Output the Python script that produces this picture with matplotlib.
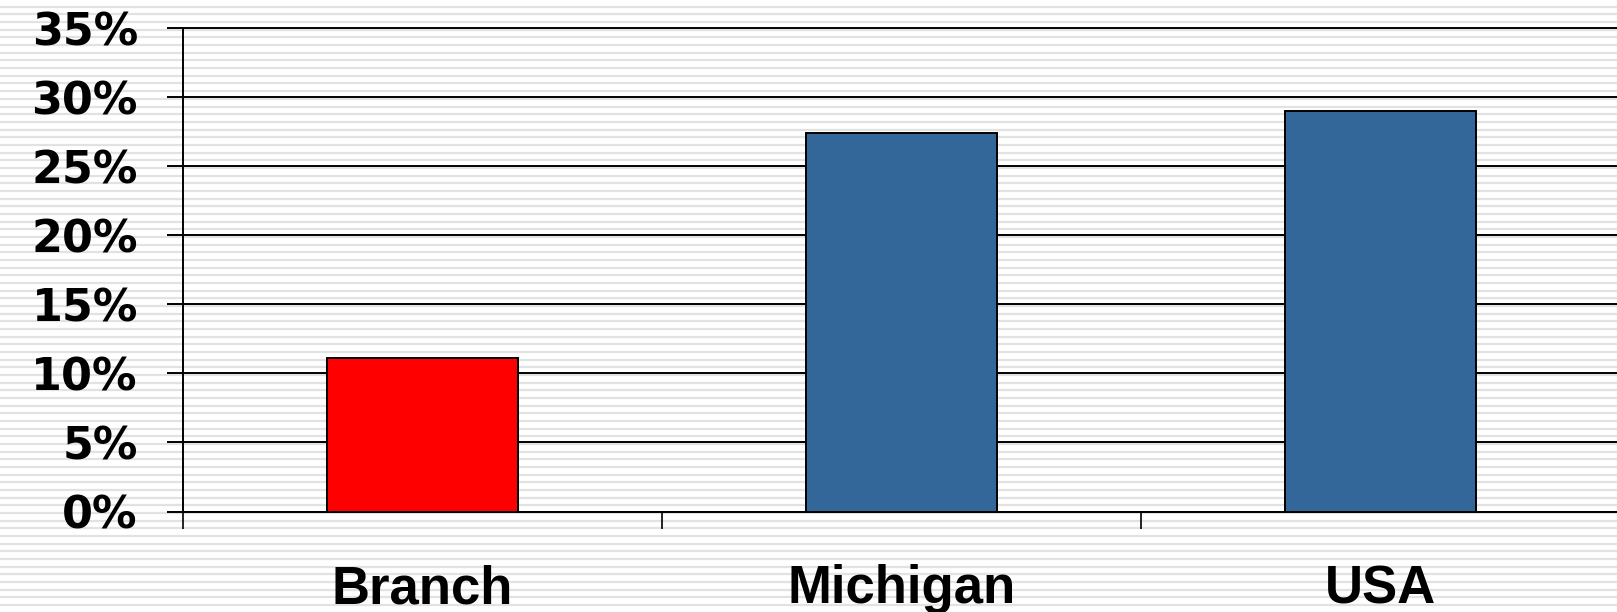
import numpy as np
import matplotlib.pyplot as plt
from matplotlib.ticker import FuncFormatter

# --- Datos ---
categorias = ['Branch', 'Michigan', 'USA']
valores = [11.1, 27.4, 29.0]   # porcentaje
colores = ['#ff0000', '#336699', '#336699']
ticks_y = [0, 5, 10, 15, 20, 25, 30, 35]

plt.rcParams['font.family'] = ['Liberation Sans', 'DejaVu Sans']

fig = plt.figure(figsize=(16.17, 6.12), dpi=100)
fig.patch.set_facecolor('white')

# Fondo rayado (lineas horizontales grises en toda la figura)
fondo = fig.add_axes([0, 0, 1, 1], zorder=-10)
fondo.set_xlim(0, 1)
fondo.set_ylim(612, 0)
for yy in np.arange(6.8, 612, 7.67):
    fondo.axhline(yy, color='#e2e2e2', linewidth=1.6)
fondo.axis('off')

ax = fig.add_axes([183 / 1617, 100.5 / 612, 1437 / 1617, 483.5 / 612])
ax.patch.set_alpha(0)

x = np.arange(len(categorias))
ax.bar(x, valores, width=0.4, color=colores, edgecolor='black', linewidth=1.4, zorder=3)

ax.set_xlim(-0.5, 2.5)
ax.set_ylim(0, 35)
ax.set_yticks(ticks_y)
ax.yaxis.set_major_formatter(FuncFormatter(lambda v, p: f'{v:.0f}%'))
ax.grid(axis='y', color='black', linewidth=1.4, zorder=1)
for linea in ax.get_ygridlines():
    linea.set_clip_on(False)

ax.set_xticks(x)
ax.set_xticklabels(categorias, fontsize=38, fontweight='bold')
ax.set_xticks([-0.5, 0.5, 1.5, 2.5], minor=True)
ax.tick_params(axis='x', which='major', length=0, pad=38)
ax.tick_params(axis='x', which='minor', length=12, width=1.2, direction='out')
ax.tick_params(axis='y', length=11.5, width=1.4, direction='out', pad=21)
for lbl in ax.get_yticklabels():
    lbl.set_fontfamily('DejaVu Sans')
    lbl.set_fontweight('bold')
    lbl.set_fontsize(32)

for lado in ['top', 'right']:
    ax.spines[lado].set_visible(False)
ax.spines['left'].set_linewidth(1.4)
ax.spines['bottom'].set_linewidth(1.4)

fig.savefig('out.png', dpi=100)
